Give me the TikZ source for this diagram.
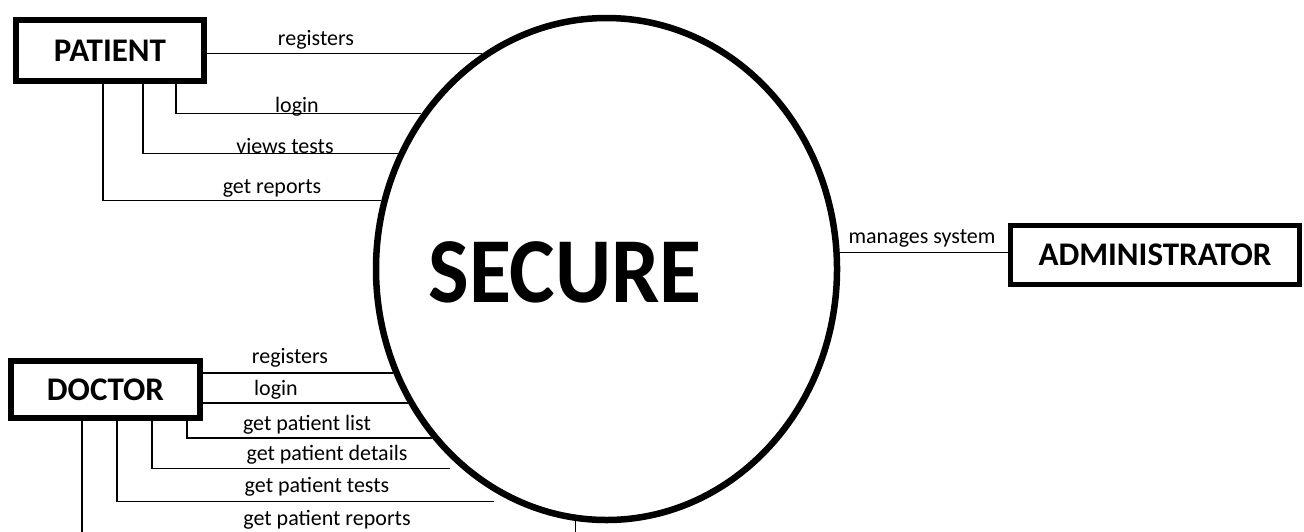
\documentclass[tikz,border=0pt]{standalone}
\usepackage{fontspec}
\setmainfont{Carlito}
\usepackage{tikz}
\usetikzlibrary{shapes.geometric}

\tikzset{
  entity/.style={draw,rectangle,line width=3pt,inner sep=0pt,
    font=\bfseries\fontsize{16.5}{20}\selectfont},
  flow/.style={line width=0.7pt},
  lbl/.style={anchor=base,inner sep=0pt,font=\fontsize{11}{13}\selectfont}
}

\begin{document}
\begin{tikzpicture}[x=0.5pt,y=-0.5pt]
\path[use as bounding box,clip](0,0)rectangle(1304,531);
% the system
\node[ellipse,draw,line width=3.25pt,inner sep=0pt,minimum width=230.5pt,minimum height=251pt,
  label={[font=\bfseries\fontsize{43}{50}\selectfont,yscale=1.08,xshift=-20.75pt,yshift=-1.5pt]center:SECURE}]
  (sys) at (606.5,269) {};
% entities
\node[entity,minimum width=94pt,minimum height=30.5pt] (pat) at (110,50.5) {PATIENT};
\node[entity,minimum width=94.5pt,minimum height=28.5pt] (doc) at (105.5,389.5) {DOCTOR};
\node[entity,line width=2.5pt,minimum width=144.5pt,minimum height=29.5pt] (adm) at (1155,255) {ADMINISTRATOR};

% patient flows
\draw[flow](sys.120)--(sys.120 -| pat.east);
\draw[flow](pat.south -| 176,0)|-(sys.140);
\draw[flow](pat.south -| 143,0)|-(sys.151);
\draw[flow](pat.south -| 103,0)|-(sys.163);
\node[lbl] (preg) at (316,45) {registers};
\node[lbl] (plog) at (297,112) {login};
\node[lbl] (pvt) at (285,153) {views tests};
\node[lbl] (prep) at (272,193) {get reports};

% doctor flows
\draw[flow](sys.206)--(sys.206 -| doc.east);
\draw[flow](sys.214)--(sys.214 -| doc.east);
\draw[flow,line width=1.1pt](doc.south -| 187,0)|-(sys.224);
\draw[flow](doc.south -| 152,0)|-([xshift=-6pt]sys.234);
\draw[flow](doc.south -| 117,0)|-([xshift=-9pt]sys.248);
\draw[flow](doc.south -| 82,0)|-(sys.263 |- 0,545)--(sys.263);
\node[lbl] (dreg) at (290,363) {registers};
\node[lbl] (dlog) at (276,395) {login};
\node[lbl] (dlst) at (307,430) {get patient list};
\node[lbl] (ddet) at (327,460) {get patient details};
\node[lbl] (dtst) at (317,492) {get patient tests};
\node[lbl] (drep) at (327,525) {get patient reports};

% administrator
\draw[flow](sys.4)--(sys.4 -| adm.west);
\node[lbl] (amng) at (922,243) {manages system};
\end{tikzpicture}
\end{document}
